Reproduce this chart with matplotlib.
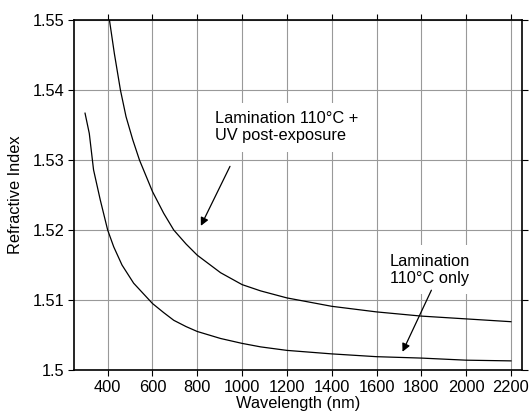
import matplotlib
matplotlib.use("Agg")
from matplotlib import pyplot as plt

# wavelength (nm) and refractive index
wl_only = [299, 318, 337, 367, 400, 427, 464, 516, 600, 650, 695, 750, 800,
           904, 1000, 1083, 1200, 1400, 1600, 1800, 2000, 2200]
n_only = [1.5367, 1.5338, 1.5286, 1.5243, 1.5200, 1.5176, 1.5150, 1.5124,
          1.5095, 1.5082, 1.5071, 1.5062, 1.5055, 1.5045, 1.5038, 1.5033,
          1.5028, 1.5023, 1.5019, 1.5017, 1.5014, 1.5013]

wl_uv = [408, 430, 457, 482, 512, 542, 600, 650, 695, 750, 800, 904, 1000,
         1083, 1200, 1400, 1600, 1800, 2000, 2200]
n_uv = [1.5500, 1.5452, 1.5400, 1.5362, 1.5329, 1.5300, 1.5255, 1.5224,
        1.5200, 1.5180, 1.5164, 1.5139, 1.5122, 1.5113, 1.5103, 1.5091,
        1.5083, 1.5077, 1.5073, 1.5069]

x_ticks = [400, 600, 800, 1000, 1200, 1400, 1600, 1800, 2000, 2200]
y_ticks = [1.5, 1.51, 1.52, 1.53, 1.54, 1.55]
y_tick_labels = ["1.5", "1.51", "1.52", "1.53", "1.54", "1.55"]

plt.rcParams['font.family'] = ['Liberation Sans', 'DejaVu Sans']

fig = plt.figure(figsize=(5.29, 4.19), dpi=100)
ax = fig.add_axes([0.140, 0.117, 0.847, 0.835])

ax.plot(wl_only, n_only, color="black", lw=0.9)
ax.plot(wl_uv, n_uv, color="black", lw=0.9)

ax.set_xlim(250, 2250)
ax.set_ylim(1.5, 1.55)
ax.set_xticks(x_ticks)
ax.set_yticks(y_ticks)
ax.set_yticklabels(y_tick_labels)
ax.grid(True, color="0.6", lw=0.8)
ax.set_axisbelow(True)

ax.tick_params(direction="out", length=4, width=0.8, labelsize=11.8,
               top=True, right=True, pad=3)
for s in ax.spines.values():
    s.set_linewidth(1.2)

ax.set_xlabel("Wavelength (nm)", fontsize=11.8, labelpad=1)
ax.set_ylabel("Refractive Index", fontsize=11.8, labelpad=7)

box = dict(facecolor="white", edgecolor="none", pad=6)
ax.text(880, 1.5347, "Lamination 110°C +\nUV post-exposure", fontsize=11.8,
        ha="left", va="center", bbox=box, zorder=3)
ax.text(1838, 1.5143, "Lamination\n110°C only", fontsize=11.8,
        ha="center", va="center", multialignment="center", bbox=box, zorder=3)

arrow = dict(arrowstyle="-|>", color="black", lw=0.9, mutation_scale=12,
             shrinkA=0, shrinkB=0)
ax.annotate("", xy=(816, 1.5206), xytext=(946, 1.5291), arrowprops=arrow,
            zorder=4)
ax.annotate("", xy=(1716, 1.5026), xytext=(1845, 1.5114), arrowprops=arrow,
            zorder=4)

fig.savefig("out.png", dpi=100)
